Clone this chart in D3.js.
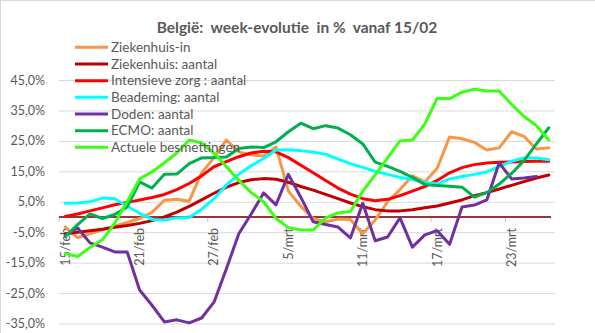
<!DOCTYPE html>
<html><head><meta charset="utf-8">
<script src="https://cdn.jsdelivr.net/npm/d3@7"></script>
<style>body{margin:0;background:#fff} text{font-family:Lato, "Open Sans", sans-serif}</style>
</head><body><svg id="c" width="595" height="333"></svg>
<script>
const dates = ["15/feb","16/feb","17/feb","18/feb","19/feb","20/feb","21/feb","22/feb","23/feb","24/feb","25/feb","26/feb","27/feb","28/feb",
  "1/mrt","2/mrt","3/mrt","4/mrt","5/mrt","6/mrt","7/mrt","8/mrt","9/mrt","10/mrt","11/mrt","12/mrt","13/mrt","14/mrt","15/mrt","16/mrt",
  "17/mrt","18/mrt","19/mrt","20/mrt","21/mrt","22/mrt","23/mrt","24/mrt","25/mrt","26/mrt"];
const xTickLabels = ["15/feb","21/feb","27/feb","5/mrt","11/mrt","17/mrt","23/mrt"];
const yTicks = [-35,-25,-15,-5,5,15,25,35,45];
const seriesNames = ["Ziekenhuis-in","Ziekenhuis: aantal","Intensieve zorg : aantal","Beademing: aantal","Doden: aantal","ECMO: aantal","Actuele besmettingen"];
const seriesColors = ["#F79646","#C00000","#FF0000","#00FFFF","#7030A0","#00B050","#3CFF14"];
const ziekenhuisIn = [-3.3,-6.8,-5.5,-4.2,-3.0,-1.8,-0.5,1.5,5.5,5.8,5.2,14.5,19.5,25.3,21.4,20.4,20.0,23.0,8.5,3.5,-0.5,-1.6,-0.7,-0.8,-5.5,-1.0,5.0,9.0,13.5,11.5,16.0,26.3,25.7,24.5,22.0,22.7,28.0,26.5,22.3,22.7];
const ziekenhuis = [-5.5,-5.0,-4.5,-4.0,-3.4,-2.8,-2.1,-1.2,0.0,1.6,3.5,5.6,7.8,9.8,11.3,12.2,12.6,12.4,11.4,10.0,8.8,7.4,6.0,4.6,3.4,2.4,2.0,2.0,2.4,3.0,3.6,4.6,5.6,7.0,8.0,9.2,10.4,11.6,12.8,13.8];
const intensieveZorg = [0.2,1.0,2.0,3.0,4.0,4.8,5.6,6.4,7.4,9.0,11.0,13.5,16.5,18.2,19.8,21.0,21.6,21.4,19.5,17.0,14.5,12.0,9.5,7.5,6.0,5.3,5.8,7.0,8.5,10.0,12.0,14.5,16.2,17.2,17.7,18.0,18.1,18.2,18.3,18.3];
const beademing = [4.5,4.6,5.0,6.2,6.0,3.5,1.2,-0.8,-1.0,-0.3,-0.2,2.5,6.0,10.5,14.0,16.8,19.2,22.0,22.0,21.8,21.3,20.6,19.0,17.5,16.3,15.0,14.0,13.0,12.3,11.3,10.9,12.5,13.3,14.0,14.8,16.5,18.3,19.4,19.4,18.8];
const doden = [-6.0,-3.6,-8.5,-9.9,-11.5,-11.5,-24.0,-29.0,-34.5,-33.8,-34.8,-33.2,-28.0,-17.0,-5.5,1.0,7.9,4.0,14.0,6.5,-1.6,-2.5,-3.3,-6.9,4.5,-7.8,-6.6,-0.3,-9.9,-5.9,-4.5,-9.0,3.3,3.9,5.6,17.8,12.5,12.8,13.3,null];
const ecmo = [-6.5,-2.5,1.0,-0.5,0.8,3.3,11.5,9.5,14.0,14.1,17.5,19.4,19.5,19.7,22.5,23.0,22.8,24.7,28.0,30.8,29.0,30.0,29.2,27.0,24.0,18.0,16.6,15.0,13.0,10.7,10.3,10.1,9.8,6.5,8.0,10.8,14.3,18.5,24.0,29.3];
const besmettingen = [-12.0,-13.0,-10.0,-7.5,-2.0,5.0,12.5,14.8,17.8,21.0,25.3,24.3,21.0,16.5,12.0,8.0,5.0,-0.5,-3.5,-4.3,-4.3,-0.3,1.3,1.8,8.5,13.8,19.4,25.0,25.3,30.5,39.0,38.8,41.0,42.0,41.4,41.4,37.0,33.0,30.0,25.3];
const seriesValues = [ziekenhuisIn, ziekenhuis, intensieveZorg, beademing, doden, ecmo, besmettingen];

const svg = d3.select("#c");
const L = 59, R = 555, T = 80, B = 323.5;
const x = d3.scaleBand().domain(dates).range([L, R]);
const cx = d => x(d) + x.bandwidth() / 2;
const y = d3.scaleLinear().domain([-35, 45]).range([B, T]);
const textCol = "#595959";

// outer border (top/left visible)
svg.append("line").attr("x1",0.5).attr("x2",0.5).attr("y1",0).attr("y2",333).attr("stroke","#D9D9D9");
svg.append("line").attr("x1",0).attr("x2",595).attr("y1",0.5).attr("y2",0.5).attr("stroke","#D9D9D9");

// title
svg.append("text").attr("x", 297).attr("y", 33).attr("text-anchor","middle")
  .attr("font-size", 15.5).attr("font-weight","bold").attr("fill", textCol)
  .text("België:\u00A0 week-evolutie\u00A0 in %\u00A0 vanaf 15/02");

// y axis with gridlines
const yAxis = d3.axisLeft(y).tickValues(yTicks).tickSize(-(R - L)).tickPadding(14)
  .tickFormat(d => d.toFixed(1).replace(".", ",") + "%");
const gy = svg.append("g").attr("transform", `translate(${L},0)`).call(yAxis);
gy.select(".domain").remove();
gy.selectAll(".tick line").attr("stroke", "#D9D9D9").attr("stroke-width", 1);
gy.selectAll(".tick text").attr("fill", textCol).attr("font-size", 12.5).attr("font-family","Lato, sans-serif");

// x labels (drawn under series)
const xAxis = d3.axisBottom(x).tickValues(xTickLabels).tickSize(0).tickPadding(0);
const gx = svg.append("g").attr("transform", `translate(0,${y(0)})`).call(xAxis);
gx.select(".domain").remove();
gx.selectAll(".tick text")
  .attr("transform", "translate(0,11) rotate(-90)")
  .attr("x", 0).attr("y", 0).attr("dy", "0.35em")
  .attr("text-anchor", "end").attr("fill", textCol).attr("font-size", 12.5).attr("font-family","Lato, sans-serif");

// axis tick marks at category boundaries
const tickDates = dates.filter((d, i) => i % 6 === 0);
svg.append("g").selectAll("line").data(tickDates).join("line")
  .attr("x1", d => x(d)).attr("x2", d => x(d))
  .attr("y1", y(0)).attr("y2", y(0) + 5)
  .attr("stroke", "#BFBFBF").attr("stroke-width", 1);

// zero line
svg.append("line").attr("x1", L).attr("x2", R - 4).attr("y1", y(0)).attr("y2", y(0))
  .attr("stroke", "#953735").attr("stroke-width", 2);

// series
const line = d3.line().defined(d => d.v != null).x(d => cx(d.d)).y(d => y(d.v));
seriesValues.forEach((vals, k) => {
  svg.append("path")
    .datum(dates.map((d, i) => ({ d, v: vals[i] })))
    .attr("d", line).attr("fill", "none")
    .attr("stroke", seriesColors[k]).attr("stroke-width", 3)
    .attr("stroke-linejoin", "round").attr("stroke-linecap", "round");
});

// legend
const lg = svg.append("g");
seriesNames.forEach((n, k) => {
  const yy = 47.3 + k * 16.67;
  lg.append("line").attr("x1", 75).attr("x2", 108).attr("y1", yy).attr("y2", yy)
    .attr("stroke", seriesColors[k]).attr("stroke-width", 3);
  lg.append("text").attr("x", 111).attr("y", yy + 4.8).attr("font-size", 13.5)
    .attr("fill", textCol).text(n);
});
</script></body></html>
